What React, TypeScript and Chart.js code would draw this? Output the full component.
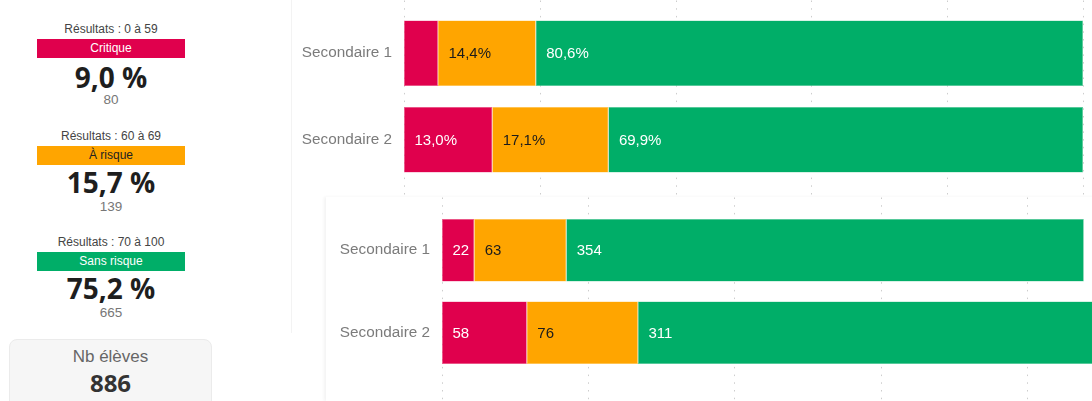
import React, { useEffect, useRef } from 'react';
import { Chart, registerables } from 'chart.js';
Chart.register(...registerables);

const categories = ['Secondaire 1', 'Secondaire 2'];
const seriesNames = ['Critique', 'À risque', 'Sans risque'];
const seriesColors = ['#E0004D', '#FFA500', '#00AE68'];
const seriesEdges = ['#ec5a8a', '#ffc34d', '#5fcc9c'];
const labelColors = ['#ffffff', '#1c1c1c', '#ffffff'];

const pctCritique = [5.0, 13.0];
const pctRisque = [14.4, 17.1];
const pctSans = [80.6, 69.9];

const nbCritique = [22, 58];
const nbRisque = [63, 76];
const nbSans = [354, 311];

const pctTicks = [0, 20, 40, 60, 80, 100];
const nbTicks = [0, 100, 200, 300, 400, 500];

const kpiRanges = ['Résultats : 0 à 59', 'Résultats : 60 à 69', 'Résultats : 70 à 100'];
const kpiPercents = ['9,0 %', '15,7 %', '75,2 %'];
const kpiCounts = [80, 139, 665];
const totalLabel = 'Nb élèves';
const totalStudents = 886;

const SANS = '"Liberation Sans", Arial, sans-serif';
const BOLD = '"Open Sans", "Noto Sans", sans-serif';

function dottedGrid(ticks: number[]) {
  return {
    id: 'dottedGrid',
    beforeDatasetsDraw(chart: any) {
      const { ctx } = chart;
      const x = chart.scales.x;
      ctx.save();
      ctx.strokeStyle = '#cdcdcd';
      ctx.lineWidth = 1;
      ctx.setLineDash([1.5, 6.2]);
      ticks.forEach((t) => {
        const px = Math.round(x.getPixelForValue(t)) + 0.5;
        ctx.beginPath();
        ctx.moveTo(px, 0.5);
        ctx.lineTo(px, chart.height);
        ctx.stroke();
      });
      ctx.restore();
    },
  };
}

function segLabels(fmt: (v: number) => string) {
  return {
    id: 'segLabels',
    afterDatasetsDraw(chart: any) {
      const ctx = chart.ctx;
      ctx.save();
      ctx.font = '15px ' + SANS;
      ctx.textBaseline = 'middle';
      ctx.textAlign = 'left';
      chart.data.datasets.forEach((ds: any, di: number) => {
        const meta = chart.getDatasetMeta(di);
        meta.data.forEach((el: any, i: number) => {
          const p = el.getProps(['x', 'y', 'base'], true);
          const left = Math.min(p.x, p.base);
          const w = Math.abs(p.x - p.base);
          const text = fmt(ds.data[i]);
          if (ctx.measureText(text).width + 14 > w) return;
          ctx.fillStyle = labelColors[di];
          ctx.fillText(text, left + 10.5, p.y + 1);
        });
      });
      ctx.restore();
    },
  };
}

type BarProps = {
  values: number[][];
  ticks: number[];
  max: number;
  fmt: (v: number) => string;
  width: number;
  height: number;
  axisWidth: number;
  padding: { top: number; bottom: number; right: number };
};

function StackedBars({ values, ticks, max, fmt, width, height, axisWidth, padding }: BarProps) {
  const ref = useRef<HTMLCanvasElement>(null);
  useEffect(() => {
    if (!ref.current) return;
    const chart = new Chart(ref.current, {
      type: 'bar',
      data: {
        labels: categories,
        datasets: seriesNames.map((n, k) => ({
          label: n,
          data: values[k],
          backgroundColor: seriesColors[k],
          borderColor: seriesEdges[k],
          borderWidth: 0.6,
          borderSkipped: false,
          categoryPercentage: 0.8,
          barPercentage: 0.95,
        })),
      },
      options: {
        indexAxis: 'y',
        responsive: false,
        animation: false,
        devicePixelRatio: 1,
        layout: { padding: { top: padding.top, bottom: padding.bottom, left: 0, right: padding.right } },
        plugins: { legend: { display: false }, tooltip: { enabled: false } },
        scales: {
          x: { stacked: true, min: 0, max, display: false },
          y: {
            stacked: true,
            grid: { display: false, drawTicks: false },
            border: { display: false },
            ticks: { color: '#7b7b7b', font: { family: SANS, size: 15.3 }, padding: 12 },
            afterFit: (s: any) => {
              s.width = axisWidth;
              s.paddingTop = 0;
              s.paddingBottom = 0;
              s.paddingLeft = 0;
              s.paddingRight = 0;
            },
          },
        },
      } as any,
      plugins: [dottedGrid(ticks), segLabels(fmt)],
    });
    return () => chart.destroy();
  }, []);
  return <canvas ref={ref} width={width} height={height} style={{ display: 'block', width, height }} />;
}

function Kpi({ i }: { i: number }) {
  const dy = i * 106.6;
  const bigDy = i * 105.5;
  const center = (c: number, lh: number) => c - lh / 2;
  const common: React.CSSProperties = { position: 'absolute', left: 0, width: 222, textAlign: 'center', whiteSpace: 'nowrap' };
  return (
    <>
      <div style={{ ...common, top: center(29 + dy, 16), lineHeight: '16px', fontSize: 12, fontFamily: SANS, color: '#444' }}>
        {kpiRanges[i]}
      </div>
      <div
        style={{
          position: 'absolute',
          left: 37,
          top: 39 + dy,
          width: 148,
          height: 19,
          lineHeight: '19px',
          background: seriesColors[i],
          color: i === 1 ? '#222' : '#fff',
          fontSize: 12,
          fontFamily: SANS,
          textAlign: 'center',
        }}
      >
        {seriesNames[i]}
      </div>
      <div style={{ ...common, top: center(76.5 + bigDy, 34), lineHeight: '34px', fontSize: 28, fontWeight: 700, fontFamily: BOLD, color: '#1e1e1e' }}>
        {kpiPercents[i]}
      </div>
      <div style={{ ...common, top: center(100 + dy, 18), lineHeight: '18px', fontSize: 13.5, fontFamily: SANS, color: '#777' }}>
        {kpiCounts[i]}
      </div>
    </>
  );
}

export default function App() {
  return (
    <div style={{ position: 'absolute', left: 0, top: 0, width: 1092, height: 401, overflow: 'hidden', background: '#fff' }}>
      {[0, 1, 2].map((i) => (
        <Kpi key={i} i={i} />
      ))}
      <div
        style={{
          position: 'absolute',
          left: 9,
          top: 339,
          width: 203,
          height: 90,
          background: '#f6f6f6',
          border: '1px solid #ebebeb',
          borderRadius: 8,
          boxSizing: 'border-box',
        }}
      >
        <div style={{ position: 'absolute', left: 0, width: '100%', textAlign: 'center', top: 355.7 - 339 - 11, lineHeight: '22px', fontSize: 17, fontFamily: SANS, color: '#666' }}>
          {totalLabel}
        </div>
        <div style={{ position: 'absolute', left: 0, width: '100%', textAlign: 'center', top: 381.7 - 339 - 15, lineHeight: '30px', fontSize: 24, fontWeight: 700, fontFamily: BOLD, color: '#333' }}>
          {totalStudents}
        </div>
      </div>
      <div style={{ position: 'absolute', left: 291, top: 0, width: 1, height: 333, background: '#f3f3f3' }} />
      <div style={{ position: 'absolute', left: 292, top: 0, width: 800, height: 197, background: '#fff' }}>
        <StackedBars
          values={[pctCritique, pctRisque, pctSans]}
          ticks={pctTicks}
          max={100}
          fmt={(v) => v.toFixed(1).replace('.', ',') + '%'}
          width={800}
          height={197}
          axisWidth={112}
          padding={{ top: 10, bottom: 14, right: 9 }}
        />
      </div>
      <div
        style={{
          position: 'absolute',
          left: 326,
          top: 197,
          width: 857,
          height: 204,
          background: '#fff',
          boxShadow: '-2px 0 3px rgba(0,0,0,0.05)',
        }}
      >
        <StackedBars
          values={[nbCritique, nbRisque, nbSans]}
          ticks={nbTicks}
          max={500}
          fmt={(v) => String(v)}
          width={857}
          height={204}
          axisWidth={116}
          padding={{ top: 12, bottom: 27, right: 10 }}
        />
      </div>
    </div>
  );
}
